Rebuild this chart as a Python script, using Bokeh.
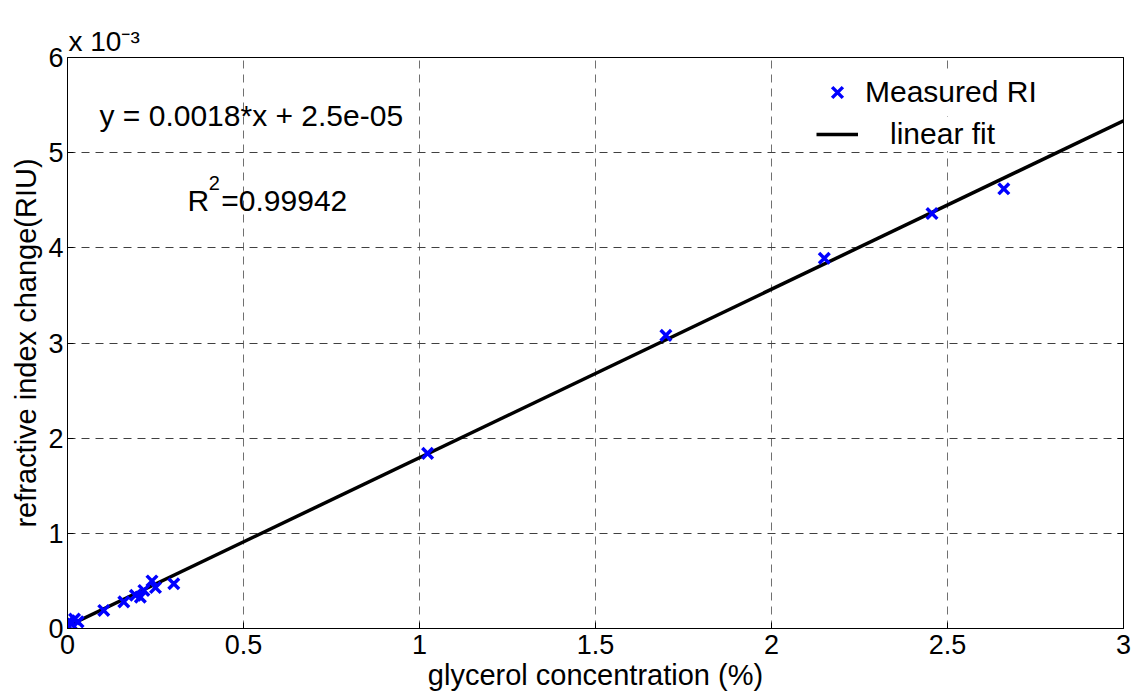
from bokeh.plotting import figure
from bokeh.models import (Range1d, FixedTicker, LinearAxis, Label, Legend, LegendItem,
                          ColumnDataSource, Title)
from bokeh.embed import file_html
from bokeh.resources import INLINE

# ---- data (y in units of 1e-3 RIU) ----
conc_pct = [0.0, 0.005, 0.01, 0.02, 0.03, 0.103, 0.16, 0.193, 0.207, 0.217, 0.24, 0.25, 0.302,
            1.023, 1.70, 2.15, 2.456, 2.66]
ri_change_e3 = [0.03, 0.08, 0.05, 0.10, 0.07, 0.19, 0.28, 0.35, 0.33, 0.40, 0.50, 0.43, 0.47,
                1.84, 3.08, 3.89, 4.36, 4.62]
fit_slope_e3 = 1.770      # per % (x 1e-3)
fit_intercept_e3 = 0.025
fit_x = [0.0, 3.0]
x_ticks = [0, 0.5, 1, 1.5, 2, 2.5, 3]
x_tick_labels = ["0", "0.5", "1", "1.5", "2", "2.5", "3"]
y_ticks = [0, 1, 2, 3, 4, 5, 6]
equation_text = "y = 0.0018*x + 2.5e-05"
r2_value_text = "=0.99942"
exponent_text = "x 10\u207b\u00b3"

FONT = "Liberation Sans"
TXT = "30px"
AXL = "29px"

p = figure(width=1133, height=694, output_backend="svg", toolbar_location=None,
           x_range=Range1d(0, 3), y_range=Range1d(0, 6),
           min_border_left=67, min_border_right=10, min_border_top=57, min_border_bottom=66)
p.background_fill_color = "white"
p.border_fill_color = "white"
p.outline_line_color = "black"
p.outline_line_width = 1

# grid
p.xgrid.grid_line_color = "#707070"
p.ygrid.grid_line_color = "#404040"
p.xgrid.grid_line_dash = "8 6"
p.ygrid.grid_line_dash = "8 6"
p.xgrid.grid_line_width = 1
p.ygrid.grid_line_width = 1

# axes
for ax in [p.xaxis[0], p.yaxis[0]]:
    ax.major_tick_in = 6
    ax.major_tick_out = 0
    ax.minor_tick_in = 0
    ax.minor_tick_out = 0
    ax.axis_line_color = "black"
    ax.major_tick_line_color = "black"
    ax.major_label_text_font = FONT
    ax.major_label_text_font_size = "27px"
    ax.major_label_text_color = "black"
    ax.axis_label_text_font = FONT
    ax.axis_label_text_font_size = AXL
    ax.axis_label_text_font_style = "normal"
    ax.axis_label_text_color = "black"

p.xaxis[0].ticker = FixedTicker(ticks=x_ticks)
p.xaxis[0].major_label_overrides = {t: s for t, s in zip(x_ticks, x_tick_labels)}
p.yaxis[0].ticker = FixedTicker(ticks=y_ticks)
p.xaxis[0].axis_label = "glycerol concentration (%)"
p.yaxis[0].axis_label = "refractive index change(RIU)"
p.xaxis[0].major_label_standoff = 6
p.yaxis[0].major_label_standoff = 4
p.xaxis[0].axis_label_standoff = 2
p.yaxis[0].axis_label_standoff = 3

# mirrored ticks on right
right_ax = LinearAxis(ticker=FixedTicker(ticks=y_ticks), major_label_text_font_size="0px",
                      major_tick_in=6, major_tick_out=0, minor_tick_in=0, minor_tick_out=0,
                      axis_line_color="black", major_label_standoff=0)
p.add_layout(right_ax, "right")

# exponent note above the axes
p.add_layout(Title(text=exponent_text, align="left", offset=1, standoff=2,
                   text_font=FONT, text_font_size="28px", text_font_style="normal",
                   text_color="black"), "above")

# fit line
fit_y = [fit_slope_e3 * x + fit_intercept_e3 for x in fit_x]
fit_r = p.line(fit_x, fit_y, line_color="black", line_width=3.5)

# measured points
src = ColumnDataSource(dict(x=conc_pct, y=ri_change_e3))
pts_r = p.scatter("x", "y", source=src, marker="x", size=15, line_color="#0000ff",
                  line_width=3.5)

# legends (two, to mimic MATLAB item offsets)
leg1 = Legend(items=[LegendItem(label="Measured RI", renderers=[pts_r])],
              location=(751, 517), glyph_width=38, glyph_height=38, label_standoff=9,
              padding=10, spacing=0, margin=0, border_line_color=None,
              background_fill_color="white", background_fill_alpha=1.0,
              label_text_font=FONT, label_text_font_size=TXT, label_text_color="black")
leg2 = Legend(items=[LegendItem(label="linear fit", renderers=[fit_r])],
              location=(749, 477), glyph_width=42, glyph_height=20, label_standoff=32,
              padding=10, spacing=0, margin=0, border_line_color=None,
              background_fill_color="white", background_fill_alpha=1.0,
              label_text_font=FONT, label_text_font_size=TXT, label_text_color="black")
p.add_layout(leg1)
p.add_layout(leg2)

# annotations (alphabetic baseline)
def lab(x, y, text, size=TXT):
    p.add_layout(Label(x=x, y=y, text=text, text_font=FONT, text_font_size=size,
                       text_color="black", text_baseline="alphabetic"))

lab(0.091, 5.389, equation_text)
lab(0.341, 4.496, "R")
lab(0.401, 4.685, "2", size="20px")
lab(0.437, 4.496, r2_value_text)

open("out.html", "w").write(file_html(p, INLINE))
